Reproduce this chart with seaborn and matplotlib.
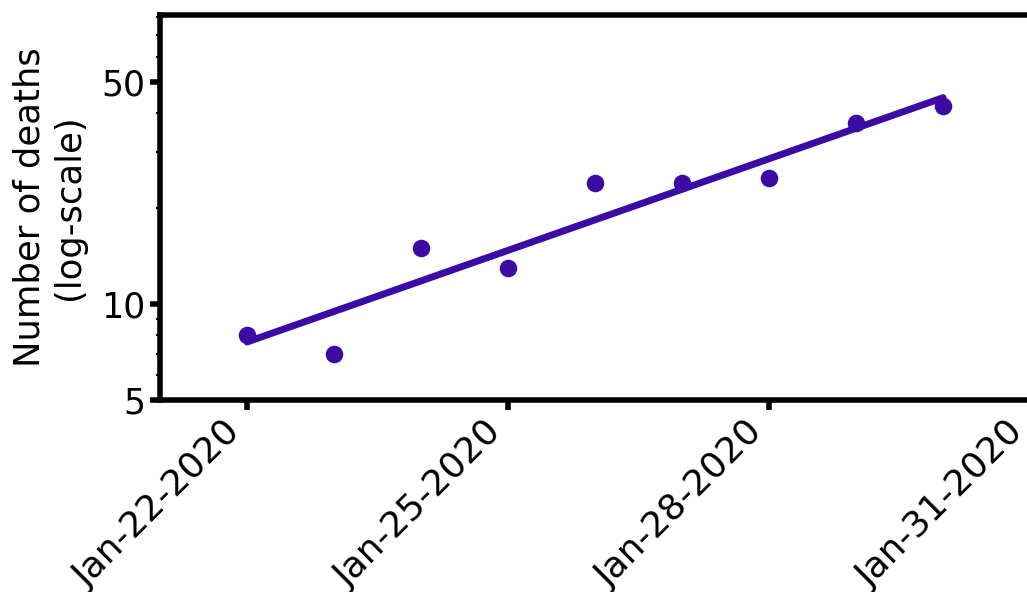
import numpy as np
import pandas as pd
import matplotlib
matplotlib.use("Agg")
import matplotlib.pyplot as plt
import matplotlib.dates as mdates
import matplotlib.ticker as mticker
import seaborn as sns

# daily deaths
dates = ["2020-01-22", "2020-01-23", "2020-01-24", "2020-01-25", "2020-01-26",
         "2020-01-27", "2020-01-28", "2020-01-29", "2020-01-30"]
deaths = [8, 7, 15, 13, 24, 24, 25, 37, 42]

tick_dates = ["2020-01-22", "2020-01-25", "2020-01-28", "2020-01-31"]
y_ticks = [5, 10, 50]

color = "#3b0ba3"

df = pd.DataFrame({"date": pd.to_datetime(dates), "deaths": deaths})

# log-linear fit
xnum = mdates.date2num(df["date"])
coef = np.polyfit(xnum, np.log10(df["deaths"]), 1)
df["fit"] = 10 ** np.polyval(coef, xnum)

sns.set_style("white")
plt.rcParams["font.family"] = ["DejaVu Sans"]
plt.rcParams["text.color"] = "black"
plt.rcParams["axes.labelcolor"] = "black"
plt.rcParams["xtick.color"] = "black"
plt.rcParams["ytick.color"] = "black"

fig = plt.figure(figsize=(10.27, 5.92), dpi=100)
ax = fig.add_axes([0.1558, 0.3243, 0.932, 0.650])

sns.lineplot(data=df, x="date", y="fit", color=color, linewidth=5, ax=ax)
sns.scatterplot(data=df, x="date", y="deaths", color=color, s=160,
                edgecolor=color, linewidth=0, zorder=3, ax=ax)

ax.set_yscale("log")
ax.set_ylim(5, 81)
ax.set_yticks(y_ticks)
ax.yaxis.set_major_formatter(mticker.ScalarFormatter())
ax.yaxis.set_minor_formatter(mticker.NullFormatter())

ax.set_xlim(pd.Timestamp("2020-01-21"), pd.Timestamp("2020-02-01"))
ax.set_xticks(pd.to_datetime(tick_dates))
ax.xaxis.set_major_formatter(mdates.DateFormatter("%b-%d-%Y"))

ax.set_xlabel("")
ax.set_ylabel("Number of deaths\n(log-scale)", fontsize=25.5, labelpad=11)

ax.tick_params(axis="y", which="major", labelsize=25, length=7, width=4,
               direction="out", left=True)
ax.tick_params(axis="x", which="major", labelsize=26, length=7, width=4,
               direction="out", bottom=True)
ax.tick_params(axis="y", which="minor", length=3, width=1.5, left=True)
plt.setp(ax.get_xticklabels(), rotation=45, ha="right")

for s in ax.spines.values():
    s.set_linewidth(4)
    s.set_color("black")

fig.savefig("out.png", dpi=100)
